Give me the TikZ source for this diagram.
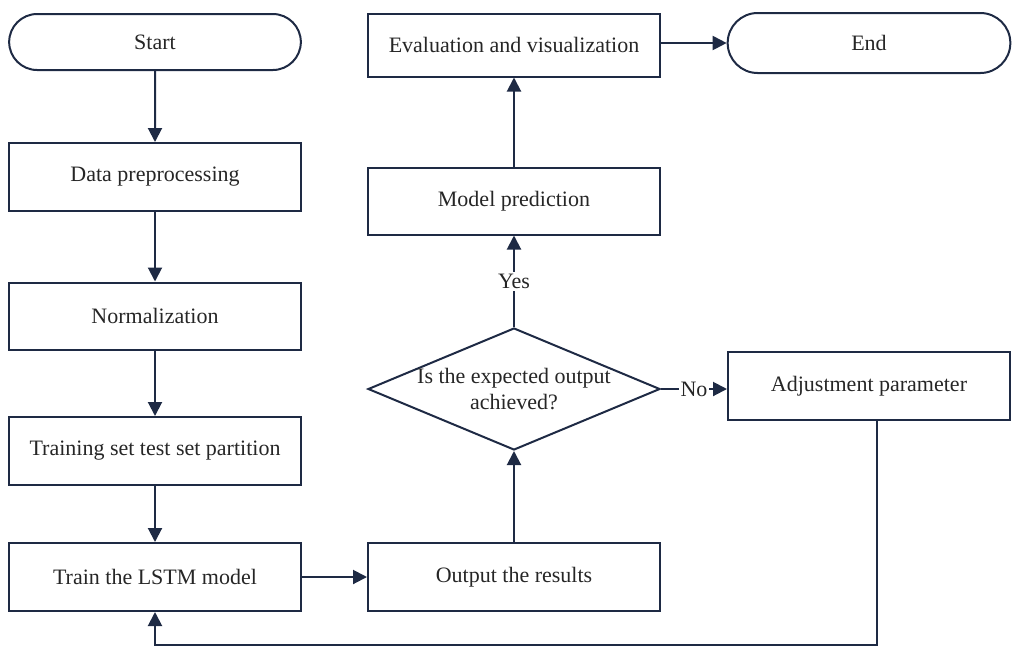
\documentclass[tikz,border=0pt]{standalone}
\usepackage{fontspec}
\setmainfont{Liberation Serif}
\usetikzlibrary{positioning,arrows.meta,shapes.geometric,shapes.misc}
\definecolor{navy}{HTML}{1E2A44}

\begin{document}
\begin{tikzpicture}[
    x=0.5pt, y=-0.5pt,
    every node/.style={font=\fontsize{11}{13}\selectfont, text=black!85},
    box/.style={draw=navy, line width=1pt, minimum width=146pt,
                minimum height=34pt, align=center},
    term/.style={box, rounded rectangle, minimum width=152.5pt, minimum height=28pt},
    cond/.style={draw=navy, line width=1pt, diamond, inner sep=-6pt,
                 aspect=2.4, minimum width=146pt, minimum height=61pt,
                 align=center},
    arr/.style={-{Triangle[length=7pt,width=7pt]}, line width=1pt, draw=navy},
    lbl/.style={fill=white, inner sep=1pt}
  ]
  \useasboundingbox (0,0) rectangle (1012,650);
  % left column
  \node[term]                           (start) at (155,42)  {Start};
  \node[box]                            (prep)  at (155,177) {Data preprocessing};
  \node[box, minimum height=33.5pt]     (norm)  at (155,316) {Normalization};
  \node[box]                            (part)  at (155,451) {Training set test set partition};
  \node[box]                            (train) at (155,577) {Train the LSTM model};
  % middle column
  \node[box]                            (out)   at (514,577) {Output the results};
  \node[cond]                           (check) at (514,389) {Is the expected output\\achieved?};
  \node[box, minimum height=33.5pt]     (pred)  at (514,201) {Model prediction};
  \node[box, minimum height=31.5pt]     (eval)  at (514,45)  {Evaluation and visualization};
  % right column
  \node[term, minimum width=148pt, minimum height=30pt] (end) at (869,43) {End};
  \node[box, minimum width=141pt]       (adj)   at (869,386) {Adjustment parameter};
  \coordinate (back) at (877,645);

  \draw[arr] (start) -- (prep);
  \draw[arr] (prep)  -- (norm);
  \draw[arr] (norm)  -- (part);
  \draw[arr] (part)  -- (train);
  \draw[arr] (train) -- (out);
  \draw[arr] (out)   -- (check);
  \draw[arr] (check) -- node[lbl] {Yes} (pred);
  \draw[arr] (pred)  -- (eval);
  \draw[arr] (eval.east |- end) -- (end);
  \draw[arr] (check.east) -- node[lbl] {No} (check.east -| adj.west);
  \draw[arr] (adj.south -| back) -- (back) -| (train);
\end{tikzpicture}
\end{document}
